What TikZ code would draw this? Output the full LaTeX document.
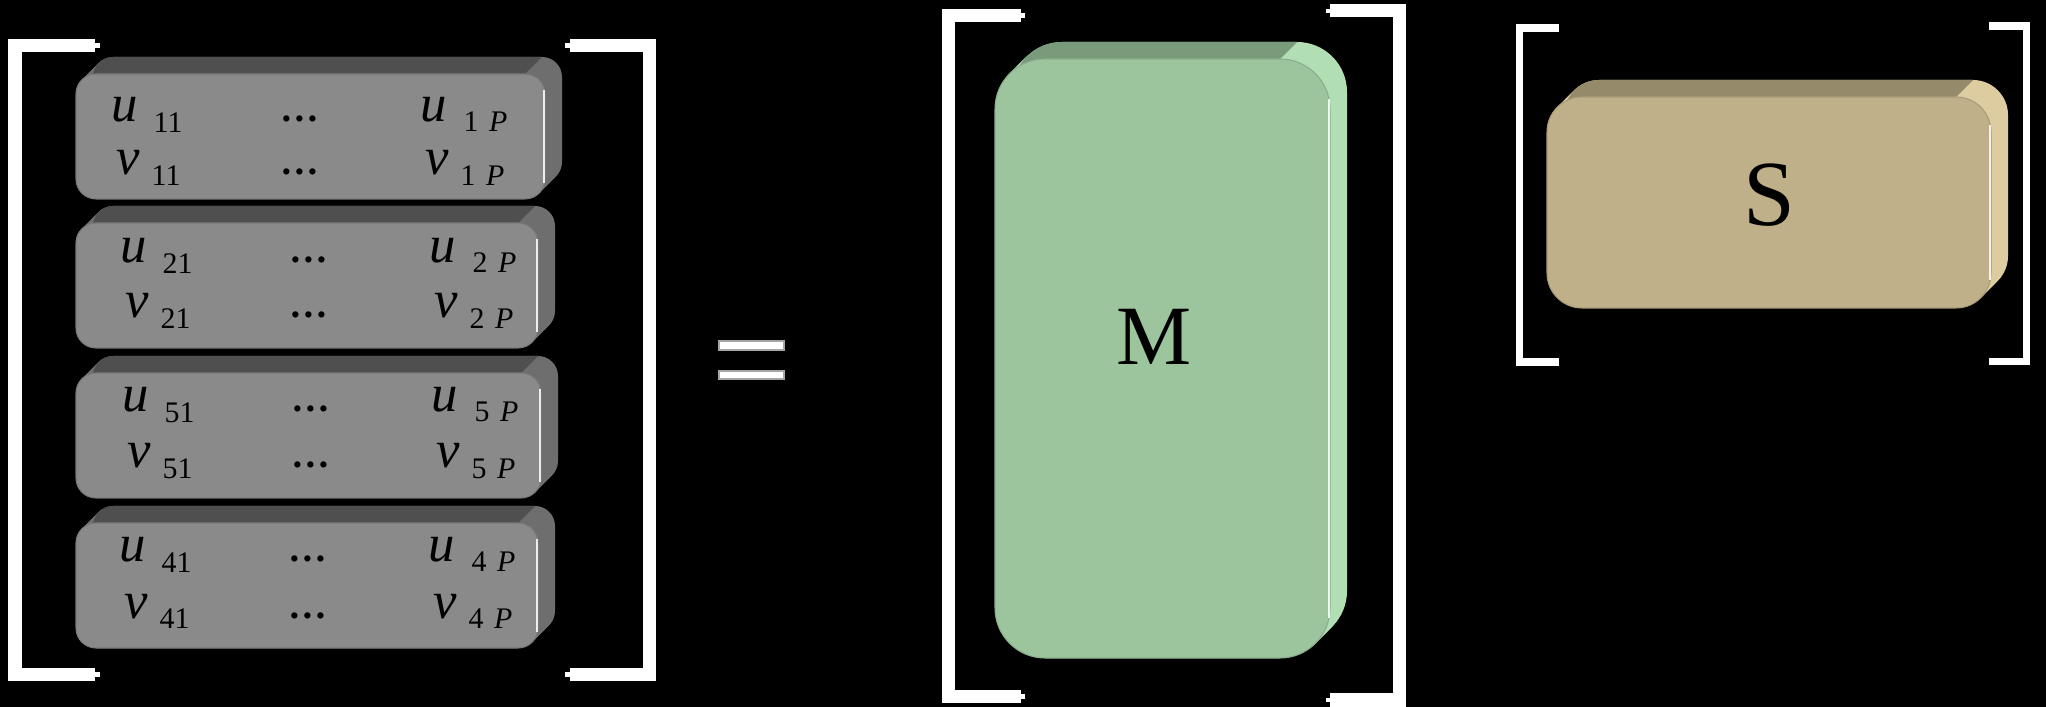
\documentclass[tikz,border=0pt]{standalone}
\usepackage{fontspec}
\setmainfont{Liberation Serif}

\definecolor{grayfront}{HTML}{8A8A8A}
\definecolor{graytop}{HTML}{4F4F4F}
\definecolor{grayside}{HTML}{6E6E6E}
\definecolor{greenfront}{HTML}{9CC59E}
\definecolor{greentop}{HTML}{7A9A7C}
\definecolor{greenside}{HTML}{B2DEB4}
\definecolor{tanfront}{HTML}{BFB08A}
\definecolor{tantop}{HTML}{958A6A}
\definecolor{tanside}{HTML}{DCCCA0}

% raised rounded slab: left, top, right, bottom, radius, front, top, side
\newcommand\roundslab[8]{%
  \foreach \k in {0,...,17}
    \fill[#8, rounded corners=#5*0.01cm] (#1+\k,#2-\k) rectangle (#3+\k,#4-\k);
  \fill[#7] (#1,#2+#5) arc[start angle=180, end angle=90, radius=#5*0.01cm]
    -- (#3-#5,#2) -- (#3-#5+17,#2-17) -- (#1+#5+17,#2-17)
    arc[start angle=90, end angle=180, radius=#5*0.01cm] -- cycle;
  \fill[#6, draw=#6!88!black, line width=0.3pt, rounded corners=#5*0.01cm] (#1,#2) rectangle (#3,#4);
  \draw[white, opacity=0.85, line width=0.5pt] (#3-0.8,#2+0.8*#5) -- (#3-0.8,#4-0.8*#5);
}

\tikzset{
  var/.style={font=\fontsize{15}{17}\selectfont\itshape, anchor=base west, inner sep=0pt},
  idx/.style={font=\fontsize{8.5}{10}\selectfont, anchor=base west, inner sep=0pt},
  dots/.style={font=\fontsize{11}{13}\selectfont\bfseries, anchor=base, inner sep=0pt},
  big/.style={anchor=base, inner sep=0pt},
  bracket/.style={draw=white, line width=3.7pt, line join=miter},
  thinbracket/.style={draw=white, line width=2pt, line join=miter},
  notch/.style={draw=white, line width=1.2pt}
}

\begin{document}
\begin{tikzpicture}[x=0.01cm, y=-0.01cm]

\fill[black] (0,0) rectangle (2046,707);
\useasboundingbox (0,0) rectangle (2046,707);

% ===== left matrix: four slabs =====
\foreach \n/\lab/\ytop/\rt/\ub/\vb/\dx in {1/1/74/545/122/175/0, 2/2/223/538/263/318/9,
                                            3/5/373/541/412/468/11, 4/4/523/538/562/618/8} {
  \roundslab{76}{\ytop}{\rt}{\ytop+125}{20}{grayfront}{graytop}{grayside}
  \node[var] (u\n-a) at (111+\dx,\ub) {u};
  \node[idx] (su\n-a) at (153+\dx,\ub+11) {\lab1};
  \node[dots] (du\n) at (300+\dx,\ub) {…};
  \node[var] (u\n-b) at (420+\dx,\ub) {u};
  \node[idx] (su\n-b) at (463+\dx,\ub+10) {\lab\kern0.35em\textit{P}};
  \node[var] (v\n-a) at (116+\dx,\vb) {v};
  \node[idx] (sv\n-a) at (151+\dx,\vb+11) {\lab1};
  \node[dots] (dv\n) at (300+\dx,\vb) {…};
  \node[var] (v\n-b) at (425+\dx,\vb) {v};
  \node[idx] (sv\n-b) at (460+\dx,\vb+11) {\lab\kern0.35em\textit{P}};
}

% ===== brackets =====
\draw[bracket] (95,45.5) -- (15,45.5) -- (15,674.5) -- (95,674.5);
\draw[bracket] (570,45.5) -- (649.5,45.5) -- (649.5,674.5) -- (570,674.5);
\draw[notch] (94,45.5) -- (100,45.5);
\draw[notch] (94,674.5) -- (100,674.5);
\draw[notch] (571,45.5) -- (565,45.5);
\draw[notch] (571,674.5) -- (565,674.5);

% ===== equals =====
\fill[white, draw=gray!70] (719,341) rectangle (784,350);
\fill[white, draw=gray!70] (719,371) rectangle (784,379);

% ===== M =====
\roundslab{995}{59}{1330}{658}{50}{greenfront}{greentop}{greenside}
\node[big, font=\fontsize{24}{28}\selectfont] (M) at (1154,365) {M};
\draw[bracket] (1021,15.5) -- (948.5,15.5) -- (948.5,696.5) -- (1021,696.5);
\draw[bracket] (1330,11) -- (1399,11) -- (1399,700) -- (1330,700);
\draw[notch] (1020,15.5) -- (1025,15.5);
\draw[notch] (1020,696.5) -- (1025,696.5);
\draw[notch] (1331,11) -- (1326,11);
\draw[notch] (1331,700) -- (1326,700);

% ===== S =====
\roundslab{1547}{97}{1991}{308}{35}{tanfront}{tantop}{tanside}
\node[big, font=\fontsize{26.5}{30}\selectfont] (S) at (1769,226) {S};
\draw[thinbracket] (1559,28) -- (1519.5,28) -- (1519.5,362) -- (1559,362);
\draw[thinbracket] (1989,26) -- (2026.5,26) -- (2026.5,361.5) -- (1989,361.5);

\end{tikzpicture}
\end{document}
